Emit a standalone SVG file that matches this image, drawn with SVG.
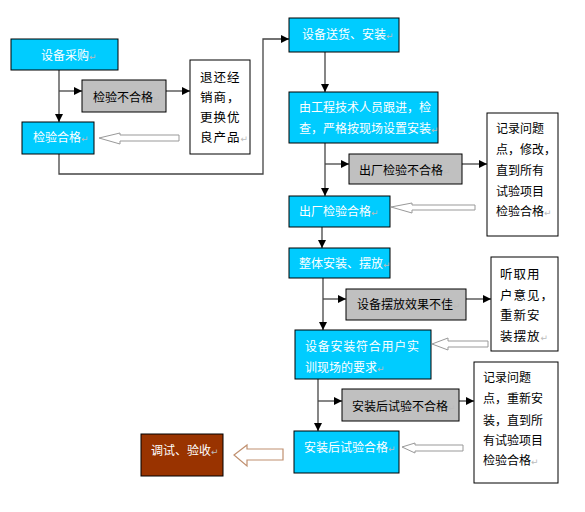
<svg xmlns="http://www.w3.org/2000/svg" width="585" height="512" viewBox="0 0 585 512">
<style>
text{font-family:"Noto Sans CJK SC","DejaVu Sans",sans-serif;font-size:12px;}
.cy{fill:#00ccff;stroke:#000;stroke-width:1;}
.gr{fill:#c0c0c0;stroke:#000;stroke-width:1;}
.wb{fill:#fff;stroke:#000;stroke-width:1;}
.br{fill:#993300;stroke:#000;stroke-width:1;}
.wt{fill:#fff;}
.bt{fill:#000;}
.rt{fill:#000;font-size:12px;}
.rs{fill:#000;font-size:12.5px;letter-spacing:1px;}
.pm{fill:#bbbbbb;font-size:9px;letter-spacing:0;}
.ln{fill:none;stroke:#444;stroke-width:1.3;}
.hol{fill:#fff;stroke:#999;stroke-width:1;}
.holb{fill:#fff;stroke:#c09070;stroke-width:1.2;}
</style>
<defs>
<marker id="ah" markerUnits="userSpaceOnUse" markerWidth="9" markerHeight="9" refX="8" refY="4" orient="auto">
<path d="M0,0 L8,4 L0,8 z" fill="#000"/>
</marker>
</defs>
<rect width="585" height="512" fill="#fff"/>
<g id="connectors">
<path class="ln" d="M59,70 V122" marker-end="url(#ah)"/>
<path class="ln" d="M59,91 H82" marker-end="url(#ah)"/>
<path class="ln" d="M166,91 H190" marker-end="url(#ah)"/>
<path class="ln" d="M59,154 V174 H263 V39 H289" marker-end="url(#ah)"/>
<path class="ln" d="M325,52 V92" marker-end="url(#ah)"/>
<path class="ln" d="M325,143 V196" marker-end="url(#ah)"/>
<path class="ln" d="M325,164 H349" marker-end="url(#ah)"/>
<path class="ln" d="M462,164 H487" marker-end="url(#ah)"/>
<path class="ln" d="M322,227 V248" marker-end="url(#ah)"/>
<path class="ln" d="M323,278 V330" marker-end="url(#ah)"/>
<path class="ln" d="M323,299 H346" marker-end="url(#ah)"/>
<path class="ln" d="M466,299 H491" marker-end="url(#ah)"/>
<path class="ln" d="M318,379 V431" marker-end="url(#ah)"/>
<path class="ln" d="M318,401 H342" marker-end="url(#ah)"/>
<path class="ln" d="M459,401 H474" marker-end="url(#ah)"/>
<polygon class="hol" points="99,138 120,133 120,135 179,135 179,141 120,141 120,144"/>
<polygon class="hol" points="391,207 412,203 412,205 475,205 475,210 412,210 412,213"/>
<polygon class="hol" points="432,344 448,338 448,341 488,341 488,347 448,347 448,350"/>
<polygon class="hol" points="402,447 415,443 415,445 463,445 463,451 415,451 415,453"/>
<polygon class="holb" points="234,455 247,445 247,449 283,449 283,460 247,460 247,466"/>
</g>
<g id="n1"><rect class="cy" x="11" y="39" width="107" height="31"/><text class="wt" x="41" y="60">设备采购<tspan class="pm">↵</tspan></text></g>
<g id="n2"><rect class="gr" x="82" y="80" width="84" height="32"/><text class="bt" x="93" y="102">检验不合格<tspan class="pm">↵</tspan></text></g>
<g id="n3"><rect class="wb" x="190" y="60" width="60" height="94"/>
<text class="rs" x="200" y="82">退还经</text><text class="rs" x="200" y="102">销商，</text><text class="rs" x="200" y="122">更换优</text><text class="rs" x="200" y="142">良产品<tspan class="pm">↵</tspan></text></g>
<g id="n4"><rect class="cy" x="22" y="122" width="72" height="32"/><text class="wt" x="33" y="142">检验合格<tspan class="pm">↵</tspan></text></g>
<g id="n5"><rect class="cy" x="289" y="18" width="110" height="34"/><text class="wt" x="302" y="39">设备送货、安装<tspan class="pm">↵</tspan></text></g>
<g id="n6"><rect class="cy" x="289" y="92" width="149" height="51"/><text class="wt" x="299" y="112">由工程技术人员跟进，检</text><text class="wt" x="299" y="133">查，严格按现场设置安装<tspan class="pm">↵</tspan></text></g>
<g id="n7"><rect class="gr" x="349" y="154" width="113" height="30"/><text class="bt" x="359" y="175">出厂检验不合格<tspan class="pm">↵</tspan></text></g>
<g id="n8"><rect class="wb" x="487" y="113" width="71" height="123"/>
<text class="rt" x="496" y="133">记录问题</text><text class="rt" x="496" y="154">点，修改，</text><text class="rt" x="496" y="175">直到所有</text><text class="rt" x="496" y="196">试验项目</text><text class="rt" x="496" y="216">检验合格<tspan class="pm">↵</tspan></text></g>
<g id="n9"><rect class="cy" x="289" y="196" width="101" height="31"/><text class="wt" x="299" y="216">出厂检验合格<tspan class="pm">↵</tspan></text></g>
<g id="n10"><rect class="cy" x="289" y="248" width="101" height="30"/><text class="wt" x="299" y="268">整体安装、摆放<tspan class="pm">↵</tspan></text></g>
<g id="n11"><rect class="gr" x="346" y="289" width="120" height="31"/><text class="bt" x="357" y="309">设备摆放效果不佳<tspan class="pm">↵</tspan></text></g>
<g id="n12"><rect class="wb" x="491" y="257" width="67" height="94"/>
<text class="rs" x="500" y="279">听取用</text><text class="rs" x="500" y="300">户意见，</text><text class="rs" x="500" y="320">重新安</text><text class="rs" x="500" y="341">装摆放<tspan class="pm">↵</tspan></text></g>
<g id="n13"><rect class="cy" x="295" y="330" width="136" height="49"/><text class="wt" x="305" y="351" textLength="114" lengthAdjust="spacing">设备安装符合用户实</text><text class="wt" x="305" y="372">训现场的要求<tspan class="pm">↵</tspan></text></g>
<g id="n14"><rect class="gr" x="342" y="389" width="117" height="32"/><text class="bt" x="352" y="411">安装后试验不合格<tspan class="pm">↵</tspan></text></g>
<g id="n15"><rect class="wb" x="474" y="362" width="84" height="121"/>
<text class="rt" x="483" y="382">记录问题</text><text class="rt" x="483" y="403">点，重新安</text><text class="rt" x="483" y="425">装，直到所</text><text class="rt" x="483" y="445">有试验项目</text><text class="rt" x="483" y="465">检验合格<tspan class="pm">↵</tspan></text></g>
<g id="n16"><rect class="cy" x="294" y="431" width="105" height="42"/><text class="wt" x="304" y="452">安装后试验合格<tspan class="pm">↵</tspan></text></g>
<g id="n17"><rect class="br" x="141" y="434" width="82" height="42"/><text class="wt" x="151" y="455">调试、验收<tspan class="pm">↵</tspan></text></g>
</svg>
